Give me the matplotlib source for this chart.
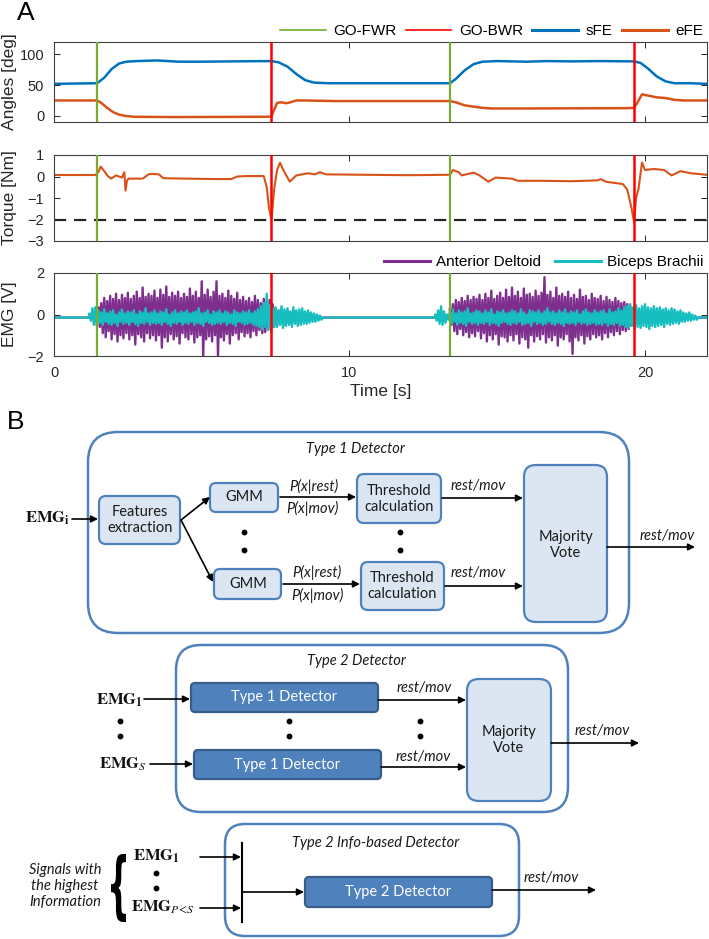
import matplotlib
matplotlib.use('Agg')
import matplotlib.pyplot as plt
from matplotlib.lines import Line2D
from matplotlib.patches import FancyBboxPatch, PathPatch
from matplotlib.textpath import TextPath
from matplotlib.font_manager import FontProperties
from matplotlib.transforms import Affine2D

plt.rcParams['font.family'] = ['Liberation Sans', 'DejaVu Sans']
plt.rcParams['mathtext.fontset'] = 'stix'

# ---- panel A data ----
t_end = 22.1
go_fwr = [1.46, 13.4]
go_bwr = [7.36, 19.63]

sfe_t = [0, 1.46, 1.7, 1.95, 2.2, 2.45, 2.8, 3.5, 4.2, 5.0,
         6.0, 7.36, 7.6, 7.9, 8.2, 8.5, 8.8, 9.3, 11.0, 13.4,
         13.6, 13.9, 14.2, 14.5, 15.0, 16.0, 16.7, 17.5, 18.5, 19.63,
         19.85, 20.1, 20.4, 20.7, 21.0, 21.5, 22.1]
sfe_v = [52, 53, 62, 76, 85, 88, 89, 90, 88, 88,
         88.5, 89, 87, 80, 68, 58, 54, 53, 53, 53,
         60, 74, 84, 88, 89, 88, 89, 88.5, 89, 88.5,
         86, 77, 64, 56, 53, 53, 52]

efe_t = [0, 1.46, 1.6, 1.8, 2.0, 2.2, 2.4, 2.7, 4.0, 7.2,
         7.36, 7.45, 7.55, 7.7, 7.85, 8.0, 8.2, 8.5, 9.5, 11,
         13.4, 13.6, 13.9, 14.2, 14.5, 14.8, 16, 19.4, 19.63, 19.75,
         19.9, 20.1, 20.4, 20.7, 21.0, 21.3, 22.1]
efe_v = [25, 25, 21, 13, 6, 2, 0, -1.5, -2, -1.5,
         -1, 10, 21, 22, 20.5, 22, 25, 25, 24, 24,
         24, 22, 17, 15, 13, 12, 12, 12.5, 13, 22,
         35, 33, 30, 29, 26, 25, 25]

torque_t = [0, 1.4, 1.5, 1.58, 1.7, 1.8, 1.93, 2.1, 2.3, 2.38,
            2.42, 2.47, 2.52, 2.6, 3.0, 3.2, 3.3, 3.55, 3.7, 4.5,
            5.5, 6.0, 6.2, 6.5, 7.1, 7.2, 7.28, 7.36, 7.45, 7.55,
            7.65, 7.76, 7.98, 8.2, 8.6, 8.83, 9.0, 9.2, 10.5, 12.0,
            13.4, 13.5, 13.7, 13.8, 14.2, 14.4, 14.7, 14.95, 15.5, 15.7,
            16.5, 17.5, 18.4, 18.5, 18.7, 19.25, 19.4, 19.55, 19.63, 19.7,
            19.78, 19.9, 20.0, 20.3, 20.65, 20.9, 21.2, 21.55, 22.1]
torque_v = [0.07, 0.07, 0.2, 0.46, 0.25, 0.05, -0.1, 0.05, -0.05, 0.2,
            -0.66, -0.2, -0.1, -0.1, -0.1, 0.1, 0.12, 0.1, -0.08, -0.1,
            -0.12, -0.12, 0.0, 0.02, 0.02, -0.5, -1.5, -2.0, -0.6, 0.3,
            0.64, 0.3, -0.24, 0.05, 0.15, 0.1, 0.2, 0.1, 0.08, 0.06,
            0.08, 0.3, 0.2, 0.05, 0.18, 0.05, -0.24, -0.05, -0.1, -0.2,
            -0.2, -0.22, -0.18, -0.12, -0.25, -0.35, -0.6, -1.5, -2.1, -1.0,
            -0.6, 0.65, 0.3, 0.35, 0.3, 0.05, 0.25, 0.15, 0.08]
torque_limit = -2

emg_base = -0.15
# anterior deltoid bursts: peak pairs (up, down) every 0.1 s
ad1_t0 = 1.5
ad1_up = [0.35, 0.55, 0.8, 0.65, 0.9, 0.75, 1.0, 0.7, 0.95, 0.8,
          1.05, 0.75, 0.9, 1.1, 0.8, 1.3, 0.85, 1.0, 0.9, 1.15,
          0.8, 1.2, 0.95, 1.35, 0.85, 1.05, 0.9, 1.1, 0.8, 1.0,
          0.85, 1.25, 0.9, 1.1, 0.8, 1.6, 0.95, 1.2, 0.85, 1.1,
          1.6, 0.9, 1.0, 0.8, 1.15, 0.9, 0.75, 1.05, 0.7, 0.85,
          0.65, 0.8, 0.6, 0.9, 0.7, 0.55, 0.75, 0.6, 0.7, 0.5,
          0.3, 0.2, 0.25, 0.15, 0.2, 0.1]
ad1_dn = [-0.6, -0.9, -1.1, -0.8, -1.2, -0.95, -1.3, -1.0, -1.15, -0.9,
          -1.2, -1.0, -1.45, -0.95, -1.1, -1.3, -0.9, -1.15, -1.0, -1.25,
          -1.0, -1.6, -1.1, -1.3, -0.95, -1.2, -1.05, -1.4, -0.9, -1.1,
          -1.2, -0.95, -1.35, -1.1, -1.0, -2.0, -1.2, -1.05, -1.3, -1.0,
          -2.0, -1.1, -1.25, -0.95, -1.4, -1.0, -0.9, -1.2, -0.85, -1.05,
          -0.9, -1.1, -0.8, -1.0, -0.75, -0.9, -0.85, -0.7, -0.8, -0.6,
          -0.45, -0.4, -0.35, -0.3, -0.3, -0.25]
ad2_t0 = 13.4
ad2_up = [0.3, 0.5, 0.7, 0.6, 0.8, 0.65, 0.9, 0.7, 0.85, 0.75,
          0.95, 0.7, 1.0, 0.8, 1.15, 0.75, 0.9, 1.05, 0.8, 1.2,
          0.85, 1.3, 0.9, 1.1, 0.8, 1.25, 0.95, 1.0, 0.85, 1.15,
          0.9, 1.05, 1.8, 0.95, 1.1, 0.8, 1.3, 0.9, 1.0, 0.85,
          1.1, 0.8, 0.95, 0.75, 1.2, 0.85, 0.9, 0.7, 1.0, 0.8,
          0.75, 0.9, 0.65, 0.85, 0.7, 0.6, 0.8, 0.65, 0.55, 0.6,
          0.5, 0.4]
ad2_dn = [-0.5, -0.8, -0.95, -0.7, -1.0, -0.85, -1.1, -0.9, -1.05, -0.8,
          -1.15, -0.9, -1.3, -1.0, -1.2, -0.95, -1.45, -1.05, -1.1, -1.3,
          -1.0, -1.25, -0.95, -1.4, -1.1, -1.2, -1.6, -1.0, -1.3, -1.05,
          -1.2, -0.95, -1.35, -1.1, -1.25, -1.0, -1.5, -1.1, -1.2, -0.95,
          -1.3, -1.9, -1.1, -1.25, -1.0, -1.4, -1.05, -1.2, -0.95, -1.1,
          -1.0, -1.2, -0.9, -1.1, -0.85, -1.0, -0.8, -0.95, -0.75, -0.8,
          -0.7, -0.55]
# biceps brachii: peak pairs (up, down) every 0.1 s
bb1_t0 = 1.2
bb1_up = [0.05, 0.3, 0.35,
          0.2, 0.1, 0.25, 0.05, 0.15, 0.2, 0.0, 0.1, 0.25, 0.05,
          0.15, 0.1, 0.2, 0.0, 0.15, 0.1, 0.3, 0.05, 0.1, 0.2,
          0.05, 0.15, 0.1, 0.25, 0.0, 0.1, 0.2, 0.05, 0.15, 0.1,
          0.2, 0.05, 0.1, 0.15, 0.3, 0.05, 0.1, 0.2, 0.0, 0.15,
          0.1, 0.2, 0.05, 0.15, 0.1, 0.0, 0.2, 0.1, 0.05, 0.15,
          0.1, 0.2, 0.05, 0.15, 0.25,
          0.4, 0.55, 1.0, 0.45, 0.3,
          0.35, 0.2, 0.4, 0.25, 0.3, 0.15, 0.35, 0.2, 0.25, 0.3,
          0.15, 0.2, 0.1, 0.05, 0.0, -0.05]
bb1_dn = [-0.3, -0.5, -0.55,
          -0.4, -0.5, -0.35, -0.45, -0.5, -0.4, -0.55, -0.35, -0.45, -0.4,
          -0.5, -0.35, -0.45, -0.55, -0.4, -0.45, -0.35, -0.5, -0.4, -0.45,
          -0.4, -0.5, -0.35, -0.45, -0.55, -0.4, -0.45, -0.35, -0.5, -0.4,
          -0.45, -0.35, -0.5, -0.4, -0.45, -0.55, -0.35, -0.4, -0.5, -0.45,
          -0.4, -0.45, -0.35, -0.5, -0.4, -0.45, -0.55, -0.35, -0.4, -0.5,
          -0.45, -0.4, -0.5, -0.55, -0.6,
          -0.7, -0.6, -0.75, -0.65, -0.6,
          -0.6, -0.5, -0.65, -0.55, -0.5, -0.6, -0.45, -0.55, -0.5, -0.45,
          -0.45, -0.4, -0.35, -0.35, -0.3, -0.25]
bb2_t0 = 12.9
bb2_up = [0.0, 0.2, 0.4, 0.15, 0.0,
          0.1, 0.25, 0.05, 0.2, 0.1, 0.15, 0.3, 0.05, 0.1, 0.2,
          0.15, 0.05, 0.2, 0.1, 0.25, 0.0, 0.15, 0.1, 0.2, 0.05,
          0.1, 0.2, 0.15, 0.05, 0.25, 0.1, 0.0, 0.2, 0.15, 0.1,
          0.2, 0.05, 0.15, 0.3, 0.1, 0.15, 0.05, 0.2, 0.1, 0.25,
          0.05, 0.15, 0.1, 0.2, 0.0, 0.15, 0.25, 0.1, 0.05, 0.2,
          0.1, 0.15, 0.2, 0.05, 0.25, 0.1, 0.15, 0.3, 0.2, 0.35,
          0.4, 0.5, 0.35, 0.45, 0.3, 0.4, 0.5, 0.35, 0.3, 0.4,
          0.3, 0.35, 0.25, 0.3, 0.2, 0.3, 0.25, 0.15, 0.2, 0.1, 0.05, 0.1, 0.0, -0.05]
bb2_dn = [-0.3, -0.45, -0.5, -0.4, -0.25,
          -0.45, -0.35, -0.5, -0.4, -0.45, -0.55, -0.35, -0.45, -0.4, -0.5,
          -0.4, -0.45, -0.35, -0.5, -0.4, -0.45, -0.55, -0.4, -0.35, -0.45,
          -0.5, -0.4, -0.45, -0.35, -0.5, -0.45, -0.4, -0.55, -0.35, -0.45,
          -0.4, -0.5, -0.45, -0.35, -0.45, -0.5, -0.4, -0.45, -0.55, -0.4,
          -0.45, -0.4, -0.5, -0.35, -0.45, -0.4, -0.5, -0.45, -0.4, -0.5,
          -0.45, -0.5, -0.4, -0.55, -0.45, -0.5, -0.4, -0.55, -0.5, -0.6,
          -0.65, -0.55, -0.7, -0.6, -0.65, -0.55, -0.6, -0.7, -0.55, -0.6,
          -0.55, -0.5, -0.6, -0.45, -0.5, -0.45, -0.4, -0.45, -0.35, -0.35, -0.3, -0.3, -0.25, -0.25]

c_sfe = '#0072BD'
c_efe = '#D95319'
c_ad = '#7E2F8E'
c_bb = '#17BEBF'
c_fwr = '#77AC30'
c_bwr = '#FF0000'


def emg_trace(bursts):
    """flat baseline with bursts of (t0, step, ups, downs) peak pairs"""
    t, v = [0], [emg_base]
    for t0, step, ups, dns in bursts:
        t.append(t0)
        v.append(emg_base)
        for k, (u, d) in enumerate(zip(ups, dns)):
            t += [t0 + k * step, t0 + k * step + step / 2]
            v += [u, d]
        t.append(t0 + len(ups) * step)
        v.append(emg_base)
    t.append(t_end)
    v.append(emg_base)
    return t, v


W, H = 709, 939
fig = plt.figure(figsize=(W / 100, H / 100), dpi=100)


def px_axes(l, t, r, b):
    return fig.add_axes([l / W, 1 - b / H, (r - l) / W, (b - t) / H])


def style(ax, ylabel):
    ax.set_xlim(0, t_end)
    ax.set_xticks([0, 10, 20])
    ax.tick_params(direction='in', length=4, width=0.7, top=True, right=True,
                   labelsize=10.5, colors='#262626', pad=7)
    for s in ax.spines.values():
        s.set_color('#404040')
        s.set_linewidth(0.8)
    ax.set_ylabel(ylabel, fontsize=12.5, color='#262626')
    ax.yaxis.set_label_coords(-0.056, 0.5)
    for t in go_fwr:
        ax.axvline(t, color=c_fwr, lw=1.6, zorder=4)
    for t in go_bwr:
        ax.axvline(t, color=c_bwr, lw=1.8, zorder=4)


ax1 = px_axes(54, 42, 707, 122)
ax2 = px_axes(54, 155, 707, 241)
ax3 = px_axes(54, 273, 707, 356)

ax1.plot(sfe_t, sfe_v, color=c_sfe, lw=1.8)
ax1.plot(efe_t, efe_v, color=c_efe, lw=1.8)
ax1.set_ylim(-10, 120)
ax1.set_yticks([0, 50, 100])
style(ax1, 'Angles [deg]')
ax1.tick_params(labelbottom=False)
hands = [Line2D([], [], color=c_fwr, lw=1.2), Line2D([], [], color=c_bwr, lw=1.2),
         Line2D([], [], color=c_sfe, lw=2.2), Line2D([], [], color=c_efe, lw=2.2)]
ax1.legend(hands, ['GO-FWR', 'GO-BWR', 'sFE', 'eFE'], ncol=4, loc='lower right',
           bbox_to_anchor=(1.0, 1.0), frameon=False, fontsize=11, handlelength=3.0,
           handletextpad=0.5, columnspacing=0.6, borderpad=0, borderaxespad=0.25)

ax2.plot(torque_t, torque_v, color=c_efe, lw=1.5)
ax2.axhline(torque_limit, color='#262626', lw=1.6, dashes=(5.5, 3.5))
ax2.set_ylim(-3, 1)
ax2.set_yticks([-3, -2, -1, 0, 1])
style(ax2, 'Torque [Nm]')
ax2.tick_params(labelbottom=False)

t_ad, v_ad = emg_trace([(ad1_t0, 0.1, ad1_up, ad1_dn), (ad2_t0, 0.1, ad2_up, ad2_dn)])
t_bb, v_bb = emg_trace([(bb1_t0, 0.1, bb1_up, bb1_dn), (bb2_t0, 0.1, bb2_up, bb2_dn)])
ax3.plot(t_ad, v_ad, color=c_ad, lw=1.7, label='Anterior Deltoid')
ax3.plot(t_bb, v_bb, color=c_bb, lw=1.7, label='Biceps Brachii')
ax3.set_ylim(-2, 2)
ax3.set_yticks([-2, 0, 2])
style(ax3, 'EMG [V]')
ax3.set_xlabel('Time [s]', fontsize=12.5, color='#262626', labelpad=3)
hands3 = [Line2D([], [], color=c_ad, lw=2.2), Line2D([], [], color=c_bb, lw=2.2)]
ax3.legend(hands3, ['Anterior Deltoid', 'Biceps Brachii'], ncol=2, loc='lower right',
           bbox_to_anchor=(1.0, 1.0), frameon=False, fontsize=11, handlelength=3.0,
           handletextpad=0.4, columnspacing=0.9, borderpad=0, borderaxespad=0.25)

# ---- panel B: block diagram in pixel coordinates ----
axd = fig.add_axes([0, 0, 1, 1])
axd.set_xlim(0, W)
axd.set_ylim(H, 0)
axd.axis('off')

edge = '#4F81BD'
light = '#DCE6F2'
dark = '#4F81BD'
dark_edge = '#385D8A'
dfont = ['Lato', 'DejaVu Sans']


def rbox(x0, y0, x1, y1, r, fc='none', ec=edge, lw=1.6):
    axd.add_patch(FancyBboxPatch((x0, y0), x1 - x0, y1 - y0,
                                 boxstyle=f'round,pad=0,rounding_size={r}',
                                 fc=fc, ec=ec, lw=lw))


def arrow(x0, y0, x1, y1):
    axd.annotate('', xy=(x1, y1), xytext=(x0, y0),
                 arrowprops=dict(arrowstyle='-|>', color='black', lw=1.2,
                                 mutation_scale=10, shrinkA=0, shrinkB=0))


def txt(x, y, s, size=10.5, style='normal', color='#1a1a1a', **kw):
    axd.text(x, y, s, ha='center', va='center', fontsize=size, style=style,
             color=color, family=dfont, linespacing=1.2, **kw)


def emg(x, y, s):
    axd.text(x, y, s, ha='center', va='center', fontsize=12, color='#111111')


def dots(x, y0, y1):
    axd.plot([x, x], [y0, y1], 'o', ms=3.2, color='black')


axd.text(26, 13, 'A', fontsize=19, ha='center', va='center')
axd.text(16, 422, 'B', fontsize=19, ha='center', va='center')

# Type 1 detector
rbox(88, 432, 629, 633, 30, lw=1.8)
txt(355, 449, 'Type 1 Detector', style='italic')
rbox(99, 496, 180, 544, 7, fc=light)
txt(140, 520, 'Features\nextraction')
emg(47, 518, r'$\mathbf{EMG_i}$')
arrow(72, 519, 98, 519)
arrow(181, 520, 210, 497)
arrow(181, 520, 213, 582)
rbox(210, 483, 278, 512, 6, fc=light)
rbox(214, 569, 281, 599, 6, fc=light)
txt(244, 497, 'GMM')
txt(248, 584, 'GMM')
txt(314, 486, 'P(x|rest)', style='italic')
txt(312, 508, 'P(x|mov)', style='italic')
txt(317, 572, 'P(x|rest)', style='italic')
txt(317, 595, 'P(x|mov)', style='italic')
arrow(280, 497, 356, 497)
arrow(283, 584, 360, 584)
rbox(357, 474, 441, 523, 7, fc=light)
rbox(361, 562, 444, 610, 7, fc=light)
txt(399, 499, 'Threshold\ncalculation')
txt(402, 586, 'Threshold\ncalculation')
dots(244, 532, 550)
dots(400, 532, 550)
txt(478, 486, 'rest/mov', style='italic')
txt(478, 573, 'rest/mov', style='italic')
arrow(442, 498, 523, 498)
arrow(445, 586, 523, 586)
rbox(524, 465, 607, 622, 12, fc=light)
txt(566, 545, 'Majority\nVote')
txt(667, 536, 'rest/mov', style='italic')
arrow(607, 547, 695, 547)

# Type 2 detector
rbox(176, 645, 568, 812, 25, lw=1.8)
txt(356, 661, 'Type 2 Detector', style='italic')
rbox(191, 683, 378, 712, 4, fc=dark, ec=dark_edge)
rbox(194, 750, 381, 779, 4, fc=dark, ec=dark_edge)
txt(284, 697, 'Type 1 Detector', color='white')
txt(287, 765, 'Type 1 Detector', color='white')
emg(120, 700, r'$\mathbf{EMG_1}$')
emg(123, 764, r'$\mathbf{EMG}_{S}$')
arrow(144, 699, 190, 699)
arrow(150, 764, 193, 764)
dots(120, 721, 736)
dots(289, 721, 736)
dots(420, 721, 736)
txt(424, 688, 'rest/mov', style='italic')
txt(423, 757, 'rest/mov', style='italic')
arrow(378, 700, 466, 700)
arrow(381, 767, 466, 767)
rbox(467, 679, 551, 801, 12, fc=light)
txt(509, 740, 'Majority\nVote')
txt(602, 731, 'rest/mov', style='italic')
arrow(551, 743, 639, 743)

# Type 2 info-based detector
rbox(225, 824, 519, 936, 20, lw=1.8)
txt(376, 843, 'Type 2 Info-based Detector', style='italic')
axd.plot([242, 242], [843, 922], color='black', lw=1.5)
emg(157, 856, r'$\mathbf{EMG_1}$')
emg(163, 907, r'$\mathbf{EMG}_{P\!<\!S}$')
dots(156, 873, 888)
arrow(200, 857, 241, 857)
arrow(200, 908, 241, 908)
arrow(242, 892, 304, 892)
rbox(305, 877, 492, 907, 4, fc=dark, ec=dark_edge)
txt(398, 892, 'Type 2 Detector', color='white')
txt(551, 878, 'rest/mov', style='italic')
arrow(492, 890, 596, 890)
txt(65, 886, 'Signals with\nthe highest\nInformation', style='italic')

brace = TextPath((0, 0), '{', size=1, prop=FontProperties(family='DejaVu Sans', weight='bold'))
ext = brace.get_extents()
tr = Affine2D().translate(-ext.x0, -ext.y1).scale(15 / ext.width, -68 / ext.height).translate(111, 854)
axd.add_patch(PathPatch(brace, transform=tr + axd.transData, fc='black', ec='none'))

fig.savefig('out.png', dpi=100)
